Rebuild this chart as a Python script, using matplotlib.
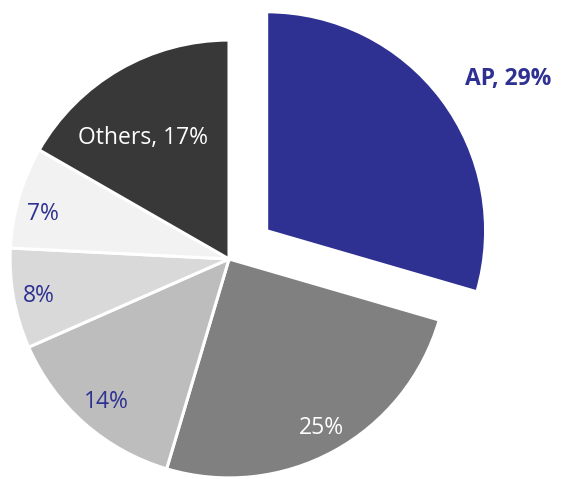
import matplotlib.pyplot as plt
import numpy as np

# slice sizes (labels are the rounded values)
shares = [29.5, 25.1, 13.8, 7.4, 7.5, 16.7]
labels = ['AP, 29%', '25%', '14%', '8%', '7%', 'Others, 17%']
colors = ['#2E3192', '#808080', '#BDBDBD', '#D9D9D9', '#F2F2F2', '#383838']
text_colors = ['#2E3192', 'white', '#2E3192', '#2E3192', '#2E3192', 'white']
explode = [0.215, 0, 0, 0, 0, 0]
# label placement: distance from wedge centre (in radii) and angle nudge (deg)
label_dist = [1.305, 0.879, 0.862, 0.885, 0.873, 0.678]
label_turn = [-4.8, 0.2, 0.9, 0.6, 2.75, 5.15]

plt.rcParams['font.family'] = ['Open Sans', 'DejaVu Sans']

fig = plt.figure(figsize=(5.64, 4.79), dpi=100)
ax = fig.add_axes([0, 0, 1, 1])

wedges, _ = ax.pie(shares, colors=colors, explode=explode, startangle=90,
                   counterclock=False, radius=1,
                   wedgeprops=dict(edgecolor='white', linewidth=2.2))

for w, lab, tc, d, t in zip(wedges, labels, text_colors, label_dist, label_turn):
    ang = np.deg2rad((w.theta1 + w.theta2) / 2 + t)
    cx, cy = w.center
    x = cx + d * np.cos(ang)
    y = cy + d * np.sin(ang)
    weight = 'bold' if lab.startswith('AP') else 'normal'
    ax.text(x, y, lab, color=tc, fontsize=16.5, fontweight=weight,
            ha='center', va='center')

ax.set_xlim(-1.046, 1.530)
ax.set_ylim(-1.005, 1.183)
ax.set_aspect('equal')
ax.axis('off')

fig.savefig('out.png', dpi=100)
